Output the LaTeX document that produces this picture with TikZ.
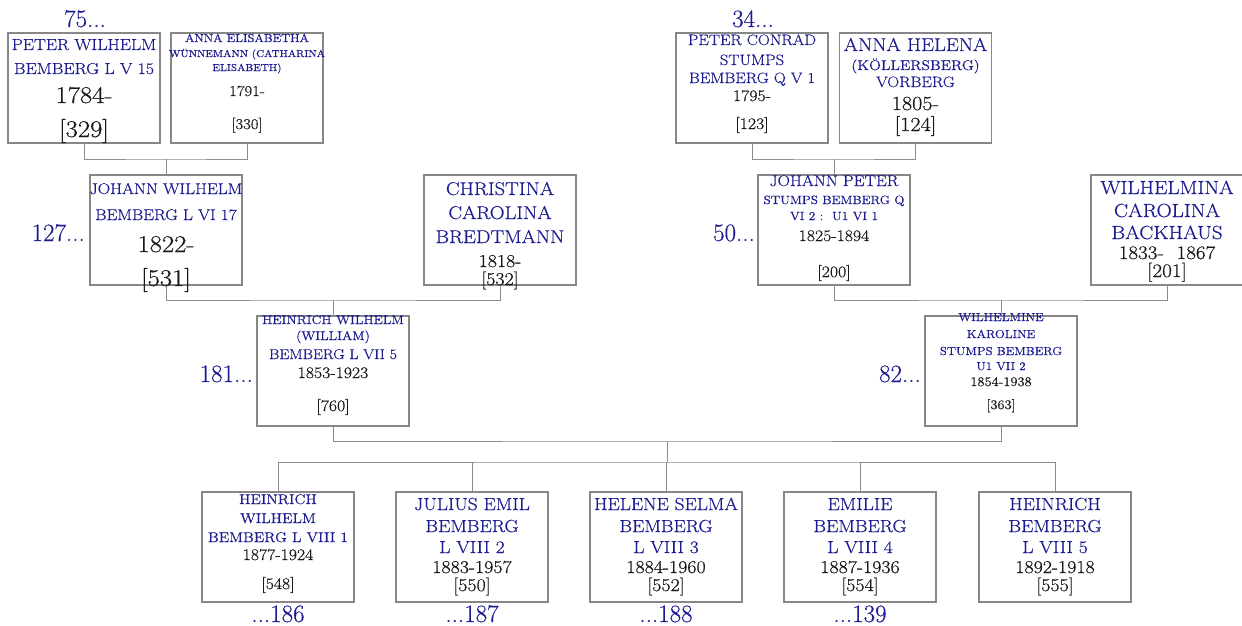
\documentclass[tikz,border=0pt]{standalone}
\usepackage{fontspec}
\setmainfont{Latin Modern Roman}[FakeStretch=1.11,FakeBold=0.5]
\newfontfamily\labfont{Latin Modern Roman}[FakeBold=0.4]
\definecolor{nameblue}{RGB}{28,28,145}
\definecolor{boxgray}{RGB}{135,135,135}
\definecolor{linegray}{RGB}{140,140,140}
\tikzset{
  box/.style={draw=boxgray, line width=1.3pt, minimum width=152pt, minimum height=110pt, inner sep=0pt},
  nm/.style={anchor=base, text=nameblue, inner sep=0pt, font=\fontsize{#1}{#1}\selectfont},
  dt/.style={anchor=base, text=black!90, inner sep=0pt, font=\fontsize{#1}{#1}\selectfont},
  reflab/.style={text=nameblue, inner sep=0pt, font=\labfont\fontsize{25}{25}\selectfont},
  link/.style={draw=linegray, line width=1pt}
}
\begin{document}
\begin{tikzpicture}[x=1pt,y=-1pt]
\useasboundingbox (0,0) rectangle (1242,626);
% boxes
\node[box] (A) at (84,88) {};
\node[box] (B) at (247,88) {};
\node[box] (C) at (752,88) {};
\node[box] (D) at (915.5,88) {};
\node[box] (E) at (166,230) {};
\node[box] (F) at (500,230) {};
\node[box] (G) at (834,230) {};
\node[box] (W) at (1167,230) {};
\node[box] (H) at (333,371) {};
\node[box] (J) at (1001,371) {};
\node[box] (K1) at (278,547) {};
\node[box] (K2) at (472,547) {};
\node[box] (K3) at (666,547) {};
\node[box] (K4) at (860,547) {};
\node[box] (K5) at (1055,547) {};
% junctions
\coordinate (jAB) at (166,159);
\coordinate (jCD) at (834,159);
\coordinate (jEF) at (333,300);
\coordinate (jGW) at (1001,300);
\coordinate (jHJ) at (667,441);
\coordinate (jK) at (667,462);
\draw[link] (A.south) |- (jAB) -| (B.south);
\draw[link] (jAB) -- (E.north);
\draw[link] (C.south) |- (jCD) -| (D.south);
\draw[link] (jCD) -- (G.north);
\draw[link] (E.south) |- (jEF) -| (F.south);
\draw[link] (jEF) -- (H.north);
\draw[link] (G.south) |- (jGW) -| (W.south);
\draw[link] (jGW) -- (J.north);
\draw[link] (H.south) |- (jHJ) -| (J.south);
\draw[link] (jHJ) -- (jK);
\draw[link] (K1.north) |- (jK) -| (K5.north);
\draw[link] (K2.north) -- (K2.north |- jK);
\draw[link] (K3.north) -- (K3.north |- jK);
\draw[link] (K4.north) -- (K4.north |- jK);
% box A
\node[nm=16] (A1) at (84,50) {PETER WILHELM};
\node[nm=16] (A2) at (84,74) {BEMBERG L V 15};
\node[dt=24] (A3) at (84,103) {1784-};
\node[dt=24] (A4) at (84,137) {[329]};
% box B
\node[nm=11.5] (B1) at (247,42) {ANNA ELISABETHA};
\node[nm=10] (B2) at (247,57) {WÜNNEMANN (CATHARINA};
\node[nm=10] (B3) at (247,71) {ELISABETH)};
\node[dt=15] (B4) at (247,96) {1791-};
\node[dt=15] (B5) at (247,129) {[330]};
% box C
\node[nm=15] (C1) at (752,45) {PETER CONRAD};
\node[nm=15] (C2) at (752,65) {STUMPS};
\node[nm=15] (C3) at (752,83) {BEMBERG Q V 1};
\node[dt=16] (C4) at (752,101) {1795-};
\node[dt=16] (C5) at (752,129) {[123]};
% box D
\node[nm=18.5] (D1) at (915.5,51) {ANNA HELENA};
\node[nm=14] (D2) at (915.5,70) {(KÖLLERSBERG)};
\node[nm=15] (D3) at (915.5,87) {VORBERG};
\node[dt=20] (D4) at (915.5,110) {1805-};
\node[dt=20] (D5) at (915.5,131) {[124]};
% box E
\node[nm=15.5] (E1) at (166,194) {JOHANN WILHELM};
\node[nm=15.5] (E2) at (166,220) {BEMBERG L VI 17};
\node[dt=24] (E3) at (166,252) {1822-};
\node[dt=24] (E4) at (166,286) {[531]};
% box F
\node[nm=18.5] (F1) at (500,195) {CHRISTINA};
\node[nm=18.5] (F2) at (500,219) {CAROLINA};
\node[nm=18.5] (F3) at (500,243) {BREDTMANN};
\node[dt=18] (F4) at (500,267) {1818-};
\node[dt=18] (F5) at (500,285) {[532]};
% box G
\node[nm=15.5] (G1) at (834,186) {JOHANN PETER};
\node[nm=12] (G2) at (834,204) {STUMPS BEMBERG Q};
\node[nm=12] (G3) at (834,220) {VI 2 :\ \ U1 VI 1};
\node[dt=16] (G4) at (834,241) {1825-1894};
\node[dt=16] (G5) at (834,277) {[200]};
% box W
\node[nm=19] (W1) at (1167,194) {WILHELMINA};
\node[nm=19] (W2) at (1167,217) {CAROLINA};
\node[nm=19] (W3) at (1167,239) {BACKHAUS};
\node[dt=19] (W4) at (1167,259) {1833-\ \ 1867};
\node[dt=19] (W5) at (1167,277) {[201]};
% box H
\node[nm=12.5] (H1) at (333,324) {HEINRICH WILHELM};
\node[nm=12.5] (H2) at (333,340) {(WILLIAM)};
\node[nm=14.2] (H3) at (333,359) {BEMBERG L VII 5};
\node[dt=16] (H4) at (333,378) {1853-1923};
\node[dt=16] (H5) at (333,411) {[760]};
% box J
\node[nm=11.6] (J1) at (1001,321) {WILHELMINE};
\node[nm=11.6] (J2) at (1001,338) {KAROLINE};
\node[nm=11.6] (J3) at (1001,355) {STUMPS BEMBERG};
\node[nm=11.6] (J4) at (1001,370) {U1 VII 2};
\node[dt=13] (J5) at (1001,386) {1854-1938};
\node[dt=13] (J6) at (1001,409) {[363]};
% K1
\node[nm=14] (K1a) at (278,504) {HEINRICH};
\node[nm=14] (K1b) at (278,523) {WILHELM};
\node[nm=14] (K1c) at (278,542) {BEMBERG L VIII 1};
\node[dt=16] (K1d) at (278,560) {1877-1924};
\node[dt=16] (K1e) at (278,589) {[548]};
% K2
\node[nm=17.5] (K2a) at (472,510) {JULIUS EMIL};
\node[nm=17.5] (K2b) at (472,532) {BEMBERG};
\node[nm=17.5] (K2c) at (472,553) {L VIII 2};
\node[dt=18] (K2d) at (472,573) {1883-1957};
\node[dt=18] (K2e) at (472,591) {[550]};
% K3
\node[nm=17.5] (K3a) at (666,510) {HELENE SELMA};
\node[nm=17.5] (K3b) at (666,532) {BEMBERG};
\node[nm=17.5] (K3c) at (666,553) {L VIII 3};
\node[dt=18] (K3d) at (666,573) {1884-1960};
\node[dt=18] (K3e) at (666,591) {[552]};
% K4
\node[nm=17.5] (K4a) at (860,510) {EMILIE};
\node[nm=17.5] (K4b) at (860,532) {BEMBERG};
\node[nm=17.5] (K4c) at (860,553) {L VIII 4};
\node[dt=18] (K4d) at (860,573) {1887-1936};
\node[dt=18] (K4e) at (860,591) {[554]};
% K5
\node[nm=17.5] (K5a) at (1055,510) {HEINRICH};
\node[nm=17.5] (K5b) at (1055,532) {BEMBERG};
\node[nm=17.5] (K5c) at (1055,553) {L VIII 5};
\node[dt=18] (K5d) at (1055,573) {1892-1918};
\node[dt=18] (K5e) at (1055,591) {[555]};
% reference labels
\node[reflab, anchor=base] (rA) at (85,27) {75...};
\node[reflab, anchor=base] (rC) at (753,27) {34...};
\node[reflab, anchor=base east] (rE) at (85,241) {127...};
\node[reflab, anchor=base east] (rG) at (755,241) {50...};
\node[reflab, anchor=base east] (rH) at (253,382) {181...};
\node[reflab, anchor=base east] (rJ) at (921,382) {82...};
\node[reflab, anchor=base] (rK1) at (278,622) {...186};
\node[reflab, anchor=base] (rK2) at (472,622) {...187};
\node[reflab, anchor=base] (rK3) at (666,622) {...188};
\node[reflab, anchor=base] (rK4) at (860,622) {...139};
\end{tikzpicture}
\end{document}
